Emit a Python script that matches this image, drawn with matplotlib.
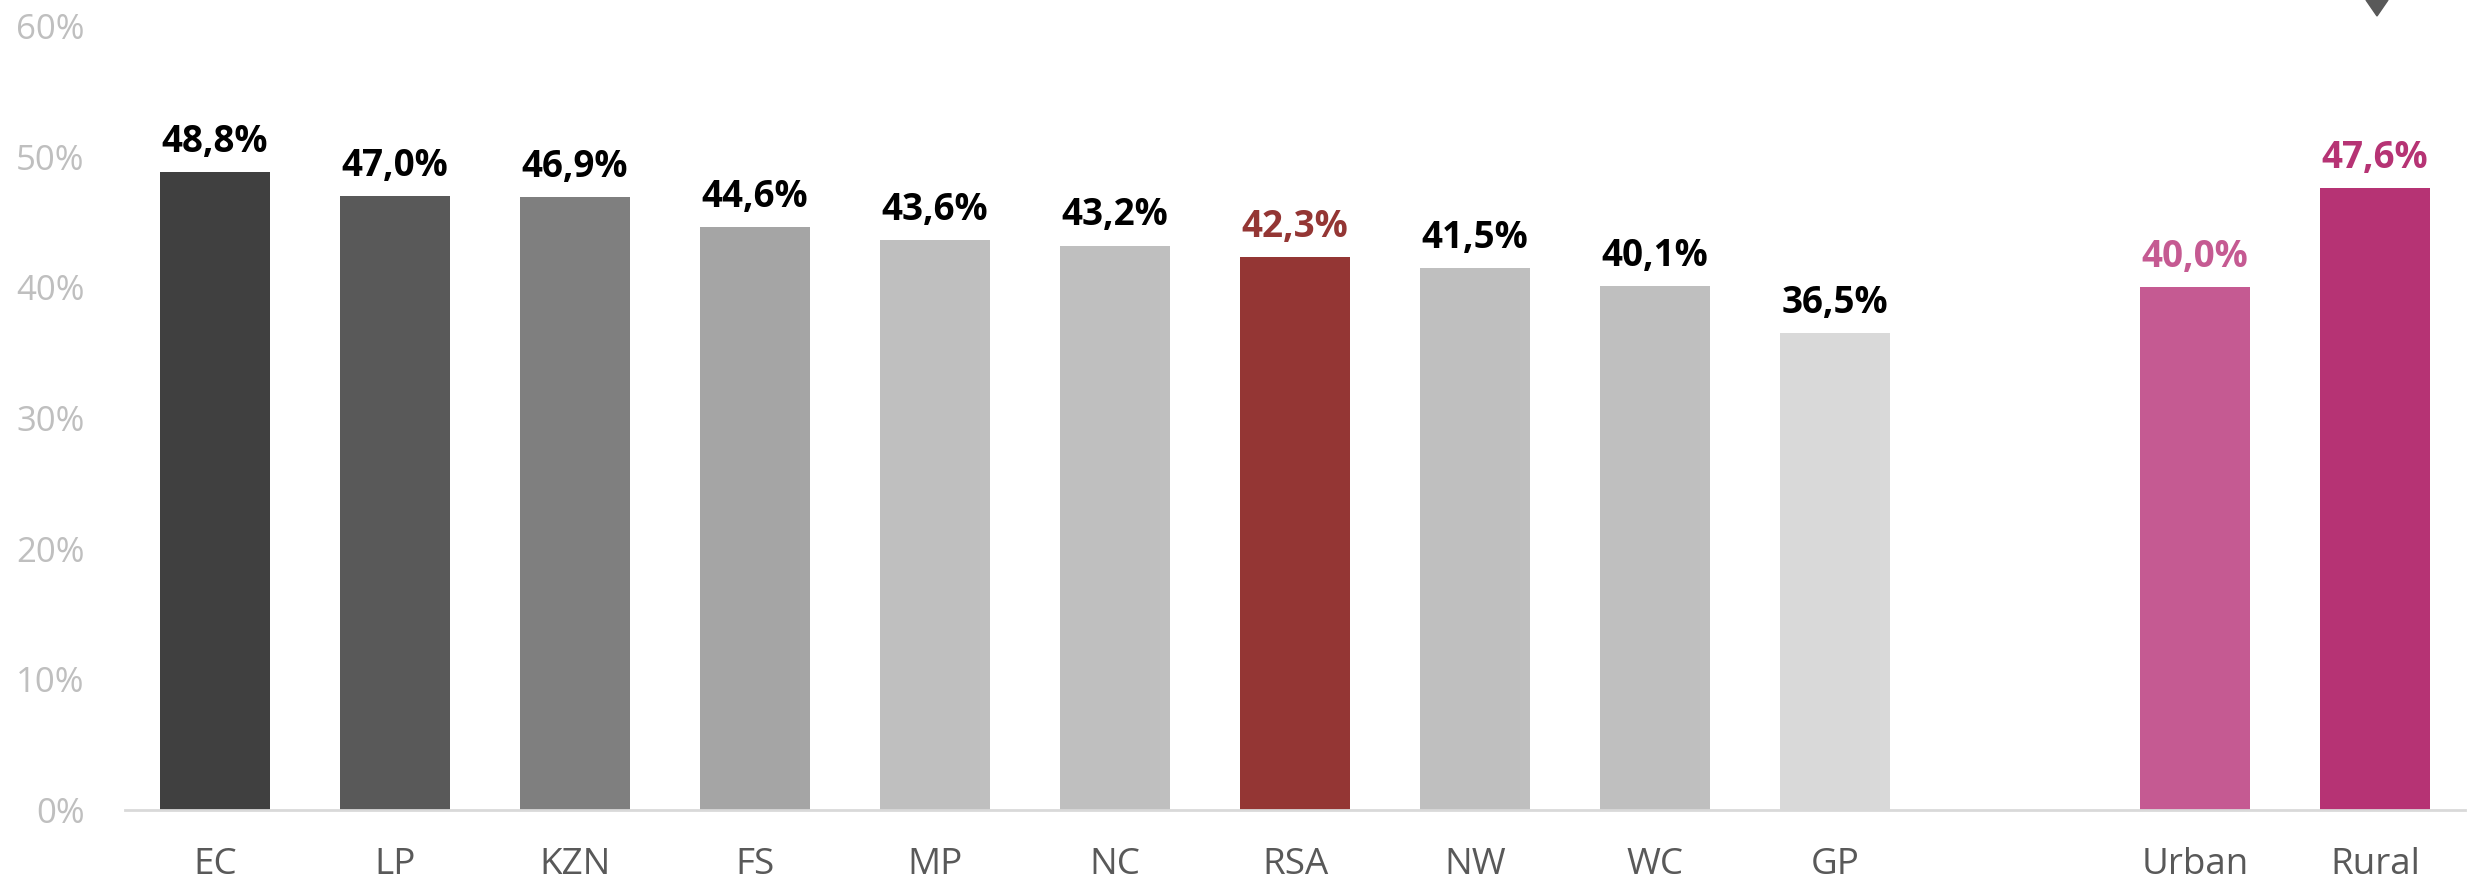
import numpy as np
import matplotlib.pyplot as plt
from matplotlib.patches import Polygon

# provinces + national
regions = ['EC', 'LP', 'KZN', 'FS', 'MP', 'NC', 'RSA', 'NW', 'WC', 'GP']
region_values = [48.8, 47.0, 46.9, 44.6, 43.6, 43.2, 42.3, 41.5, 40.1, 36.5]
region_colors = ['#404040', '#595959', '#7f7f7f', '#a5a5a5', '#bfbfbf',
                 '#bfbfbf', '#943634', '#bfbfbf', '#bfbfbf', '#d9d9d9']
region_label_colors = ['black'] * 6 + ['#943634'] + ['black'] * 3

# settlement type
areas = ['Urban', 'Rural']
area_values = [40.0, 47.6]
area_colors = ['#c55a92', '#b63374']

yticks = [0, 10, 20, 30, 40, 50, 60]

plt.rcParams['font.family'] = ['Open Sans', 'DejaVu Sans']

fig = plt.figure(figsize=(24.76, 8.85), dpi=100)
ax = fig.add_axes([125 / 2476, 75 / 885, 2340 / 2476, 784 / 885])

x1 = np.arange(len(regions))
x2 = len(regions) + 1 + np.arange(len(areas))

bars1 = ax.bar(x1, region_values, width=0.61, color=region_colors)
bars2 = ax.bar(x2, area_values, width=0.61, color=area_colors)

for b, v, c in zip(list(bars1) + list(bars2), region_values + area_values,
                   region_label_colors + area_colors):
    ax.annotate(f'{v:.1f}%'.replace('.', ','), (b.get_x() + b.get_width() / 2, v),
                xytext=(0, 8), textcoords='offset points', ha='center', va='bottom',
                fontsize=26.5, fontweight='bold', color=c)

ax.set_xlim(-0.5, 12.5)
ax.set_ylim(0, 60)
ax.set_yticks(yticks)
ax.set_yticklabels([f'{t}%' for t in yticks])
ax.set_xticks(list(x1) + list(x2))
ax.set_xticklabels(regions + areas)

ax.tick_params(axis='y', length=0, pad=29, labelsize=25, labelcolor='#bfbfbf')
ax.tick_params(axis='x', length=0, pad=27, labelsize=26.5, labelcolor='#595959')

for s in ['top', 'right', 'left']:
    ax.spines[s].set_visible(False)
ax.spines['bottom'].set_color('#d9d9d9')
ax.spines['bottom'].set_linewidth(2)

# marker cut at the top edge, above the Rural bar
tri = Polygon([(2366 / 2476, 1.0), (2388 / 2476, 1.0), (2377 / 2476, 1 - 16 / 885)],
              closed=True, transform=fig.transFigure, color='#595959')
fig.patches.append(tri)

fig.savefig('out.png', dpi=100)
